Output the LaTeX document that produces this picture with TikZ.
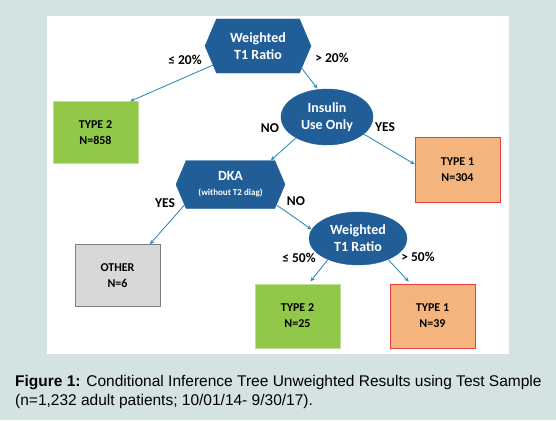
\documentclass[tikz,border=0pt]{standalone}
\usepackage{fontspec}
\setmainfont{Carlito}
\newfontfamily\capfont{Liberation Sans}
\usetikzlibrary{arrows.meta, shapes.geometric, shapes.symbols}
\definecolor{PanelGrey}{RGB}{212,226,226}
\definecolor{TreeBlue}{RGB}{33,94,152}
\definecolor{LinkTeal}{RGB}{52,143,184}
\definecolor{LeafGreen}{RGB}{146,200,74}
\definecolor{LeafOrange}{RGB}{243,181,125}
\definecolor{LeafRed}{RGB}{232,64,64}
\definecolor{LeafGrey}{RGB}{216,216,216}

\begin{document}
\begin{tikzpicture}[x=1pt,y=-1pt,
    hexa/.style={signal,signal to=east and west,signal pointer angle=134,
                 fill=TreeBlue,draw=TreeBlue,text=white,inner sep=0pt,
                 align=center,font=\bfseries\fontsize{14}{17}\selectfont},
    oval/.style={ellipse,fill=TreeBlue,draw=TreeBlue,text=white,inner sep=0pt,
                 align=center,font=\bfseries\fontsize{14}{17}\selectfont},
    leaf/.style={rectangle,minimum width=85pt,minimum height=62pt,inner sep=0pt,
                 align=center,font=\bfseries\fontsize{12}{16}\selectfont},
    typetwo/.style={leaf,fill=LeafGreen,draw=LeafGreen!60!white},
    typeone/.style={leaf,fill=LeafOrange,draw=LeafRed},
    other/.style={leaf,fill=LeafGrey,draw=gray},
    lbl/.style={font=\bfseries\fontsize{13.5}{16}\selectfont},
    arr/.style={-{Stealth[length=4.5pt,width=4pt]},LinkTeal,line width=0.9pt}
  ]
    \fill[PanelGrey] (0,0) rectangle (556,420);
    \fill[white] (47,16) rectangle (509,354);
    % split nodes
    \node[hexa,minimum width=106pt,minimum height=54pt] (W1) at (258,46) {Weighted\\T1 Ratio};
    \node[oval,minimum width=92pt,minimum height=56pt] (IU) at (327,117) {Insulin\\Use Only};
    \node[hexa,minimum width=109pt,minimum height=48pt] (DKA) at (230.5,184.5)
      {DKA\\[-2pt]{\fontsize{9}{11}\selectfont(without T2 diag)}};
    \node[oval,minimum width=98pt,minimum height=53pt] (W2) at (358,238.5) {Weighted\\T1 Ratio};
    % leaves
    \node[typetwo] (T2a) at (95.5,132.5) {TYPE 2\\N=858};
    \node[typeone,minimum height=65pt] (T1a) at (457.5,169.5) {TYPE 1\\N=304};
    \node[other] (Oth) at (117.5,275.5) {OTHER\\N=6};
    \node[typetwo,minimum height=64pt] (T2b) at (297.5,316) {TYPE 2\\N=25};
    \node[typeone,minimum height=64pt] (T1b) at (432.5,316) {TYPE 1\\N=39};
    % branches
    \draw[arr] (W1.203) -- (T2a.42);
    \draw[arr,shorten >=1pt] (W1.333) -- (IU.108);
    \draw[arr] (IU.214) -- (DKA.31);
    \draw[arr] (IU.335) -- (T1a.173);
    \draw[arr] (DKA.204) -- (Oth.44);
    \draw[arr] (DKA.336) -- (W2.169);
    \draw[arr,shorten >=3pt] (W2.215) -- (T2b.71);
    \draw[arr,shorten >=3pt] (W2.325) -- (T1b.124);
    \node[lbl] (l20) at (185,60) {≤ 20\%};
    \node[lbl] (g20) at (332,58) {> 20\%};
    \node[lbl] (no1) at (270,128) {NO};
    \node[lbl] (yes1) at (385,127) {YES};
    \node[lbl] (yes2) at (165,203) {YES};
    \node[lbl] (no2) at (296,201) {NO};
    \node[lbl] (l50) at (299,258) {≤ 50\%};
    \node[lbl] (g50) at (418,257) {> 50\%};
    % caption
    \node[anchor=base west,inner sep=0pt,font=\capfont\fontsize{15.5}{19}\selectfont] (cap1) at (15,386)
      {\textbf{Figure 1:} Conditional Inference Tree Unweighted Results using Test Sample};
    \node[anchor=base west,inner sep=0pt,font=\capfont\fontsize{15.5}{19}\selectfont] (cap2) at (15,405)
      {(n=1,232 adult patients; 10/01/14- 9/30/17).};
\end{tikzpicture}
\end{document}
